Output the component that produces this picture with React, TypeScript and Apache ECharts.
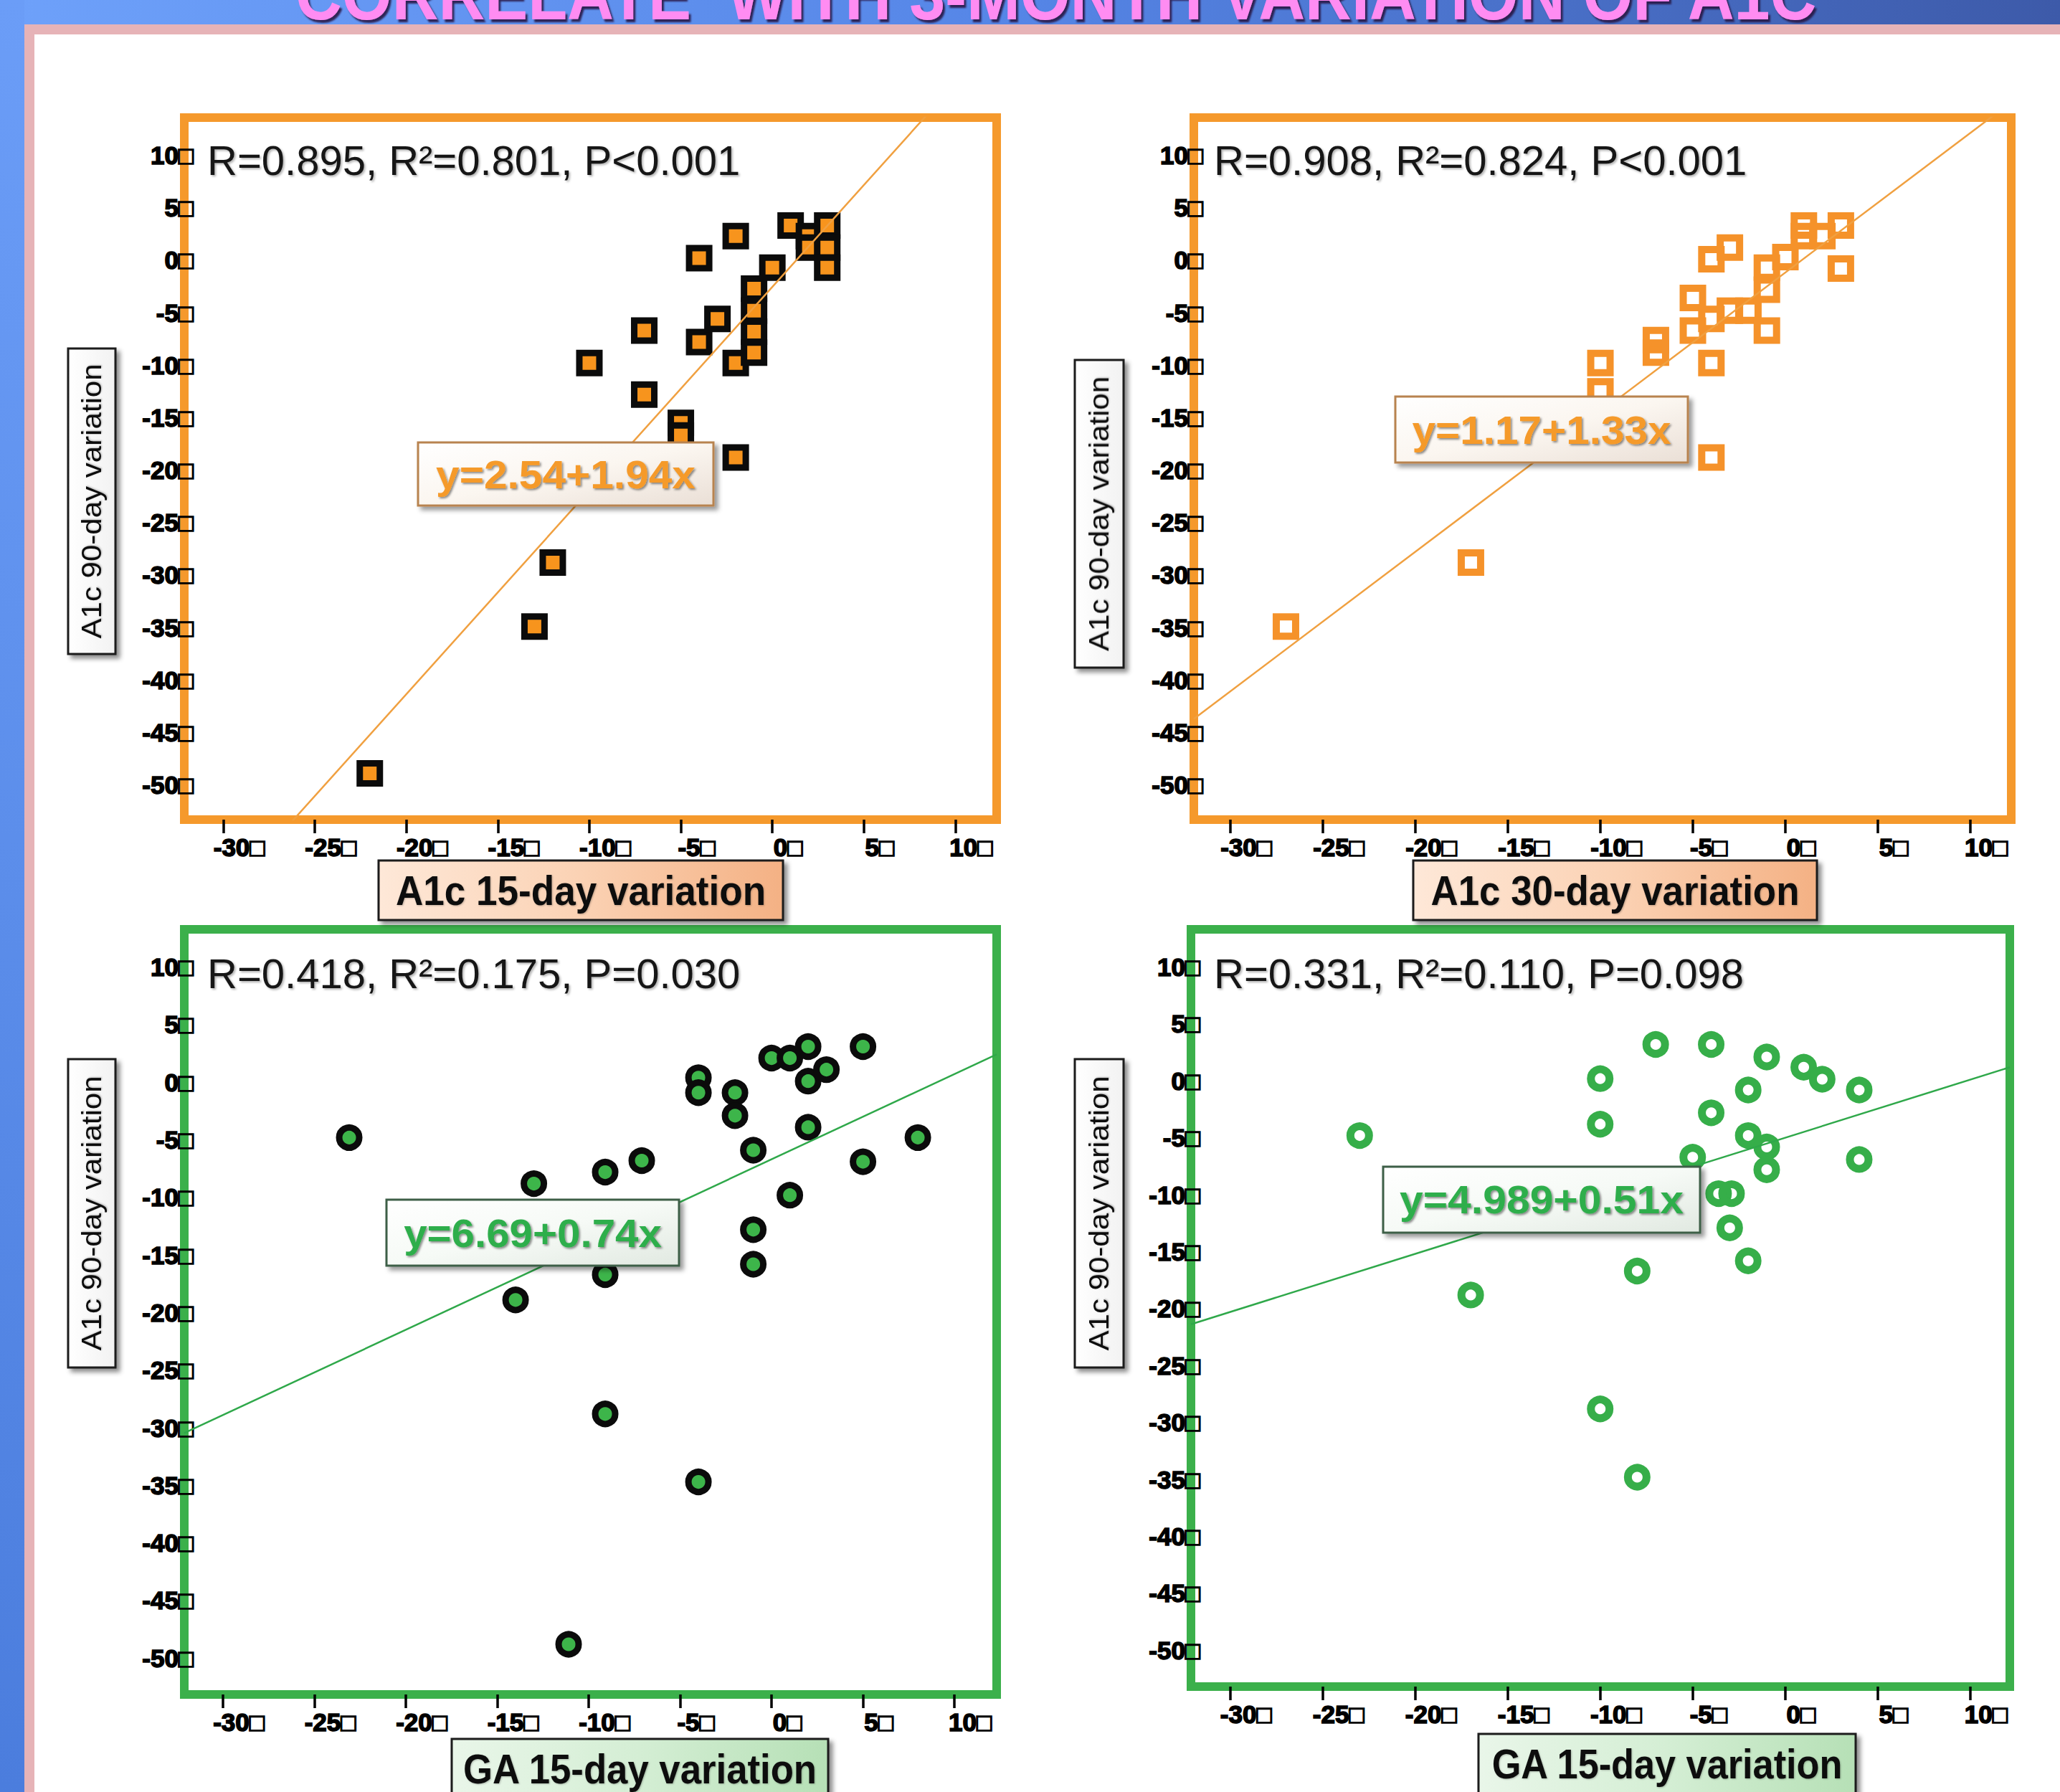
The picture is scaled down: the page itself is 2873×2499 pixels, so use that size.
import { useEffect, useRef } from "react";
import * as echarts from "echarts";

const WIDTH = 2873;
const HEIGHT = 2499;

// ---------- data ----------
const xTickValues = [-30, -25, -20, -15, -10, -5, 0, 5, 10];
const yTickValues = [10, 5, 0, -5, -10, -15, -20, -25, -30, -35, -40, -45, -50];

// Panel 1: A1c 15-day variation (x) vs A1c 90-day variation (y)
const a1c15X = [-22, -13, -12, -10, -7, -7, -5, -5, -4, -4, -3, -2, -2, -2, -1, -1, -1, -1, 0, 1, 2, 2, 3, 3, 3];
const a1c15Y = [-48.9, -34.9, -28.8, -9.8, -6.7, -12.8, -15.5, -16.7, 0.2, -7.8, -5.6, 2.3, -9.8, -18.8, -2.7, -4.8, -6.8, -8.8, -0.7, 3.3, 2.3, 1.2, 3.3, 1.2, -0.7];

// Panel 2: A1c 30-day variation (x) vs A1c 90-day variation (y)
const a1c30X = [-27, -17, -10, -10, -7, -7, -5, -5, -4, -4, -4, -4, -3, -3, -2, -1, -1, -1, 0, 1, 1, 2, 3, 3];
const a1c30Y = [-34.9, -28.8, -9.8, -12.5, -7.6, -8.8, -3.6, -6.7, 0.1, -5.6, -9.8, -18.8, 1.2, -4.8, -4.8, -0.7, -2.8, -6.7, 0.3, 3.3, 2.3, 2.3, 3.3, -0.8];

// Panel 3: GA 15-day variation (x) vs A1c 90-day variation (y)
const ga15X = [-23.1, -14, -13, -11.1, -9.1, -9.1, -9.1, -7.1, -4, -4, -4, -2, -2, -1, -1, -1, 0, 1, 1, 2, 2, 2, 3, 5, 5, 8];
const ga15Y = [-4.8, -18.9, -8.8, -48.8, -7.8, -16.7, -28.8, -6.8, 0.4, -0.9, -34.7, -0.9, -2.9, -5.9, -12.8, -15.8, 2.1, 2.1, -9.8, 3.1, 0.1, -3.9, 1.1, 3.1, -6.9, -4.8];

// Panel 4: GA 15-day variation (x) vs A1c 90-day variation (y)
const ga15bX = [-23, -17, -10, -10, -10, -8, -8, -7, -5, -4, -4, -3.6, -2.9, -3, -2, -2, -2, -1, -1, -1, 1, 2, 4, 4];
const ga15bY = [-4.8, -18.8, 0.2, -3.8, -28.8, -16.7, -34.8, 3.2, -6.7, 3.2, -2.8, -9.9, -9.9, -12.9, -0.8, -4.8, -15.8, 2.1, -5.8, -7.8, 1.2, 0.15, -0.8, -6.9];

const statTexts = [
  "R=0.895, R²=0.801, P<0.001",
  "R=0.908, R²=0.824, P<0.001",
  "R=0.418, R²=0.175, P=0.030",
  "R=0.331, R²=0.110, P=0.098",
];
const equationTexts = ["y=2.54+1.94x", "y=1.17+1.33x", "y=6.69+0.74x", "y=4.989+0.51x"];
// fitted lines as drawn in the figure
const trendIntercepts = [-2.54, -1.17, -6.69, -4.989];
const trendSlopes = [1.94, 1.33, 0.74, 0.51];
const xTitles = ["A1c 15-day variation", "A1c 30-day variation", "GA 15-day variation", "GA 15-day variation"];
const yTitle = "A1c 90-day variation";
const pageTitle = "CORRELATE  WITH 3-MONTH VARIATION OF A1C";

const seriesX = [a1c15X, a1c30X, ga15X, ga15bX];
const seriesY = [a1c15Y, a1c30Y, ga15Y, ga15bY];

// ---------- layout / style ----------
const ORANGE = "#f5992c";
const GREEN = "#3bb04b";

const panels = [
  { left: 257, top: 164, right: 1390, bottom: 1143, xMin: -32.14, xMax: 12.26, yMin: -53.3, yMax: 13.59, frame: ORANGE },
  { left: 1665, top: 164, right: 2805, bottom: 1143, xMin: -31.98, xMax: 12.21, yMin: -53.3, yMax: 13.59, frame: ORANGE },
  { left: 257, top: 1296, right: 1390, bottom: 2363, xMin: -32.12, xMax: 12.31, yMin: -53.16, yMax: 13.28, frame: GREEN },
  { left: 1661, top: 1296, right: 2803, bottom: 2352, xMin: -32.12, xMax: 12.14, yMin: -53.19, yMax: 13.31, frame: GREEN },
];

const markerStyles = [
  { symbol: "rect", size: 28, color: "#f7941d", border: "#0b0b0b", bw: 9 },
  { symbol: "rect", size: 27, color: "rgba(255,255,255,0)", border: "#f5922a", bw: 10 },
  { symbol: "circle", size: 28, color: "#3db54a", border: "#0b0b0b", bw: 9 },
  { symbol: "circle", size: 26, color: "rgba(255,255,255,0)", border: "#36ae49", bw: 11 },
];
const lineColors = ["#f0a040", "#f0a040", "#2fa84a", "#2fa84a"];

const statPos = [
  { x: 289, y: 223 },
  { x: 1693, y: 223 },
  { x: 289, y: 1357 },
  { x: 1693, y: 1357 },
];
const eqBoxes = [
  { x: 583, y: 617, w: 412, h: 88, tw: 362 },
  { x: 1946, y: 553, w: 408, h: 92, tw: 361 },
  { x: 539, y: 1673, w: 408, h: 92, tw: 360 },
  { x: 1929, y: 1627, w: 442, h: 92, tw: 396 },
];
const xTitleBoxes = [
  { x: 528, y: 1200, w: 564, h: 83, tw: 516 },
  { x: 1971, y: 1200, w: 563, h: 83, tw: 514 },
  { x: 630, y: 2425, w: 525, h: 86, tw: 495 },
  { x: 2062, y: 2418, w: 526, h: 86, tw: 491 },
];
const yTitleBoxes = [
  { x: 95, y: 486, w: 66, h: 426 },
  { x: 1499, y: 502, w: 68, h: 429 },
  { x: 95, y: 1477, w: 66, h: 430 },
  { x: 1499, y: 1477, w: 68, h: 430 },
];

const FONT = '"Liberation Sans", Arial, sans-serif';

function fitScale(text: string, font: string, target: number): number {
  const c = document.createElement("canvas").getContext("2d");
  if (!c) return 1;
  c.font = font;
  const w = c.measureText(text).width;
  return w > 0 ? target / w : 1;
}

function lin(x1: number, y1: number, x2: number, y2: number, stops: string[]) {
  return {
    type: "linear",
    x: x1,
    y: y1,
    x2,
    y2,
    colorStops: stops.map((c, i) => ({ offset: i / (stops.length - 1), color: c })),
  };
}

const tickLabelStyle = {
  color: "#000",
  fontSize: 35,
  fontWeight: "bold",
  fontFamily: FONT,
  textBorderColor: "#000",
  textBorderWidth: 1.6,
};

function buildOption() {
  const grids: any[] = [];
  const xAxes: any[] = [];
  const yAxes: any[] = [];
  const series: any[] = [];
  const graphics: any[] = [];

  // page background
  graphics.push(
    { type: "rect", z: -10, shape: { x: 0, y: 0, width: WIDTH, height: 34 }, style: { fill: lin(0, 0, 1, 0, ["#6ea1fa", "#5585e6", "#3d5aa9"]) } },
    { type: "rect", z: -10, shape: { x: 0, y: 0, width: 34, height: HEIGHT }, style: { fill: lin(0, 0, 0, 1, ["#6b9df7", "#4b7ddd"]) } },
    { type: "rect", z: -9, shape: { x: 34, y: 34, width: WIDTH - 34, height: 14 }, style: { fill: "#e6b3b7" } },
    { type: "rect", z: -9, shape: { x: 34, y: 34, width: 14, height: HEIGHT - 34 }, style: { fill: "#e6b3b7" } }
  );
  const titleFont = `bold 100px ${FONT}`;
  graphics.push({
    type: "text",
    z: 50,
    x: 412,
    y: -8,
    scaleX: fitScale(pageTitle, titleFont, 2126),
    style: {
      text: pageTitle,
      fontSize: 100,
      fontWeight: "bold",
      fontFamily: FONT,
      fill: "#ff8cf2",
      align: "left",
      verticalAlign: "middle",
      textShadowColor: "rgba(40,20,70,0.9)",
      textShadowBlur: 2,
      textShadowOffsetX: 3,
      textShadowOffsetY: 4,
    },
  });

  panels.forEach((p, i) => {
    grids.push({
      left: p.left,
      top: p.top,
      width: p.right - p.left,
      height: p.bottom - p.top,
      show: true,
      backgroundColor: "#ffffff",
      borderColor: p.frame,
      borderWidth: 12,
      containLabel: false,
      outerBoundsMode: "none",
    });
    xAxes.push({
      gridIndex: i,
      type: "value",
      position: "bottom",
      min: p.xMin,
      max: p.xMax,
      axisLine: { show: false, onZero: false },
      splitLine: { show: false },
      axisTick: { show: true, customValues: xTickValues, length: 19, lineStyle: { color: "#000", width: 3.5 } },
      axisLabel: {
        ...tickLabelStyle,
        customValues: xTickValues,
        formatter: (v: number) => `${v}□`,
        margin: 21,
        padding: [0, 0, 0, 44],
      },
    });
    yAxes.push({
      gridIndex: i,
      type: "value",
      position: "left",
      min: p.yMin,
      max: p.yMax,
      axisLine: { show: false, onZero: false },
      splitLine: { show: false },
      axisTick: { show: false },
      axisLabel: {
        ...tickLabelStyle,
        customValues: yTickValues,
        formatter: (v: number) => `${v}□`,
        margin: -13,
      },
    });

    const m = markerStyles[i];
    series.push({
      type: "scatter",
      xAxisIndex: i,
      yAxisIndex: i,
      data: seriesX[i].map((x, k) => [x, seriesY[i][k]]),
      symbol: m.symbol,
      symbolSize: m.size,
      itemStyle: { color: m.color, borderColor: m.border, borderWidth: m.bw, opacity: 1 },
      silent: true,
      z: 2,
    });
    const a = trendIntercepts[i];
    const b = trendSlopes[i];
    series.push({
      type: "line",
      xAxisIndex: i,
      yAxisIndex: i,
      data: [
        [p.xMin, a + b * p.xMin],
        [p.xMax, a + b * p.xMax],
      ],
      symbol: "none",
      clip: true,
      lineStyle: { color: lineColors[i], width: 2.5 },
      silent: true,
      z: 3,
    });

    const isTop = i < 2;

    // statistics text
    graphics.push({
      type: "text",
      z: 60,
      x: statPos[i].x,
      y: statPos[i].y,
      style: {
        text: statTexts[i],
        fontSize: 58,
        fontFamily: FONT,
        fill: "#151515",
        align: "left",
        verticalAlign: "middle",
        textShadowColor: "rgba(0,0,0,0.3)",
        textShadowBlur: 3,
        textShadowOffsetX: 2,
        textShadowOffsetY: 2,
      },
    });

    // equation box
    const eb = eqBoxes[i];
    graphics.push({
      type: "rect",
      z: 60,
      shape: { x: eb.x, y: eb.y, width: eb.w, height: eb.h },
      style: {
        fill: lin(0, 0, 1, 1, isTop ? ["#ffffff", "#fbf6f0", "#eadfd6"] : ["#ffffff", "#f6faf6", "#e1e9e1"]),
        stroke: isTop ? "#b8834f" : "#3e5e46",
        lineWidth: 3,
        shadowBlur: 6,
        shadowColor: "rgba(0,0,0,0.4)",
        shadowOffsetX: 5,
        shadowOffsetY: 5,
      },
    });
    const eqFont = `bold 56px ${FONT}`;
    graphics.push({
      type: "text",
      z: 61,
      x: eb.x + eb.w / 2,
      y: eb.y + eb.h / 2,
      scaleX: fitScale(equationTexts[i], eqFont, eb.tw),
      style: {
        text: equationTexts[i],
        fontSize: 56,
        fontWeight: "bold",
        fontFamily: FONT,
        fill: isTop ? "#f59a2a" : "#2eae4b",
        align: "center",
        verticalAlign: "middle",
        textShadowColor: "rgba(0,0,0,0.45)",
        textShadowBlur: 3,
        textShadowOffsetX: 2,
        textShadowOffsetY: 2,
      },
    });

    // x axis title box
    const xb = xTitleBoxes[i];
    graphics.push({
      type: "rect",
      z: 60,
      shape: { x: xb.x, y: xb.y, width: xb.w, height: xb.h },
      style: {
        fill: lin(0, 0, 1, 0, isTop ? ["#fee8d8", "#fbd2b4", "#f4b184"] : ["#e9f6e9", "#d4eed4", "#b6e0b6"]),
        stroke: "#1d1d1d",
        lineWidth: 3,
        shadowBlur: 6,
        shadowColor: "rgba(0,0,0,0.45)",
        shadowOffsetX: 5,
        shadowOffsetY: 5,
      },
    });
    const xtFont = `bold 58px ${FONT}`;
    graphics.push({
      type: "text",
      z: 61,
      x: xb.x + xb.w / 2,
      y: xb.y + 42,
      scaleX: fitScale(xTitles[i], xtFont, xb.tw),
      style: {
        text: xTitles[i],
        fontSize: 58,
        fontWeight: "bold",
        fontFamily: FONT,
        fill: "#111111",
        align: "center",
        verticalAlign: "middle",
        textShadowColor: "rgba(0,0,0,0.25)",
        textShadowBlur: 2,
        textShadowOffsetX: 1,
        textShadowOffsetY: 1,
      },
    });

    // y axis title box (rotated)
    const yb = yTitleBoxes[i];
    graphics.push({
      type: "rect",
      z: 60,
      shape: { x: yb.x, y: yb.y, width: yb.w, height: yb.h },
      style: {
        fill: lin(0, 0, 1, 0, ["#ffffff", "#f2f2f2"]),
        stroke: "#1d1d1d",
        lineWidth: 3,
        shadowBlur: 6,
        shadowColor: "rgba(0,0,0,0.45)",
        shadowOffsetX: 5,
        shadowOffsetY: 5,
      },
    });
    const ytFont = `38px ${FONT}`;
    graphics.push({
      type: "text",
      z: 61,
      x: yb.x + yb.w / 2,
      y: yb.y + yb.h / 2,
      rotation: Math.PI / 2,
      scaleX: fitScale(yTitle, ytFont, 383),
      style: {
        text: yTitle,
        fontSize: 38,
        fontFamily: FONT,
        fill: "#111111",
        align: "center",
        verticalAlign: "middle",
        textShadowColor: "rgba(0,0,0,0.25)",
        textShadowBlur: 2,
        textShadowOffsetX: 1,
        textShadowOffsetY: 1,
      },
    });
  });

  return {
    animation: false,
    backgroundColor: "#ffffff",
    grid: grids,
    xAxis: xAxes,
    yAxis: yAxes,
    series,
    graphic: { elements: graphics },
  };
}

export default function App() {
  const ref = useRef<HTMLDivElement>(null);
  useEffect(() => {
    if (!ref.current) return;
    const chart = echarts.init(ref.current, undefined, { renderer: "svg", width: WIDTH, height: HEIGHT });
    chart.setOption(buildOption() as any);
    return () => chart.dispose();
  }, []);
  return (
    <div
      ref={ref}
      style={{ position: "absolute", left: 0, top: 0, width: WIDTH, height: HEIGHT, background: "#fff" }}
    />
  );
}
